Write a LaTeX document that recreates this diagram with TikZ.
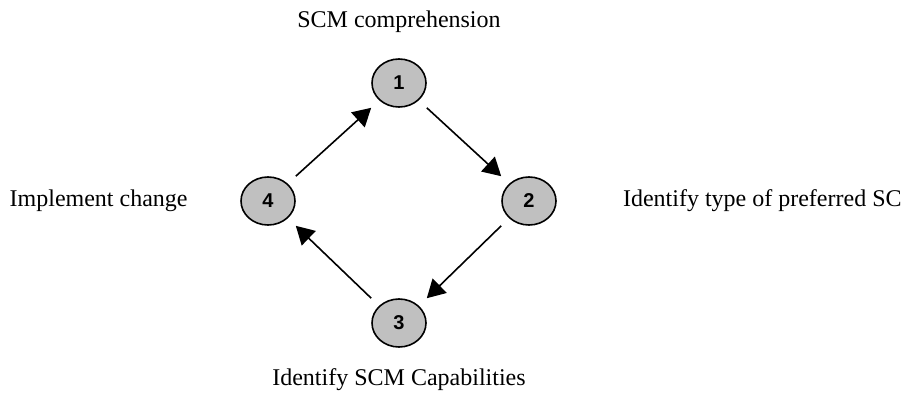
\documentclass[tikz,border=0pt]{standalone}
\usepackage{fontspec}
\setmainfont{Liberation Serif}
\newfontfamily\numfont{Liberation Sans}
\usetikzlibrary{arrows.meta,shapes.geometric}
\begin{document}
\begin{tikzpicture}[x=0.5pt,y=-0.5pt,
  stage/.style={ellipse,draw=black,line width=0.8pt,fill=stagegray,
    minimum width=27pt,minimum height=24pt,inner sep=0pt,
    font=\numfont\bfseries\fontsize{10}{12}\selectfont},
  caption/.style={font=\fontsize{12}{14}\selectfont,inner sep=0pt},
  flow/.style={line width=0.8pt,-{Triangle[length=9pt,width=10pt]}}]
\definecolor{stagegray}{RGB}{192,192,192}
\useasboundingbox (0,0) rectangle (917,398);
% the four stages of the cycle
\node[stage] (n1) at (399,83) {1};
\node[stage] (n2) at (529,201) {2};
\node[stage] (n3) at (399,323) {3};
\node[stage] (n4) at (268,201) {4};
% stage captions
\node[caption] (t1) at (399,22) {SCM comprehension};
\node[caption,anchor=east] (t2) at (902,201) {Identify type of preferred SC};
\node[caption] (t3) at (399,380) {Identify SCM Capabilities};
\node[caption,anchor=east] (t4) at (188,201) {Implement change};
% connectors run between the corners of the stage boxes
\draw[flow] (n1.east |- n1.south) -- (n2.west |- n2.north);
\draw[flow] (n2.west |- n2.south) -- (n3.east |- n3.north);
\draw[flow] (n3.west |- n3.north) -- (n4.east |- n4.south);
\draw[flow] (n4.east |- n4.north) -- (n1.west |- n1.south);
\end{tikzpicture}
\end{document}
